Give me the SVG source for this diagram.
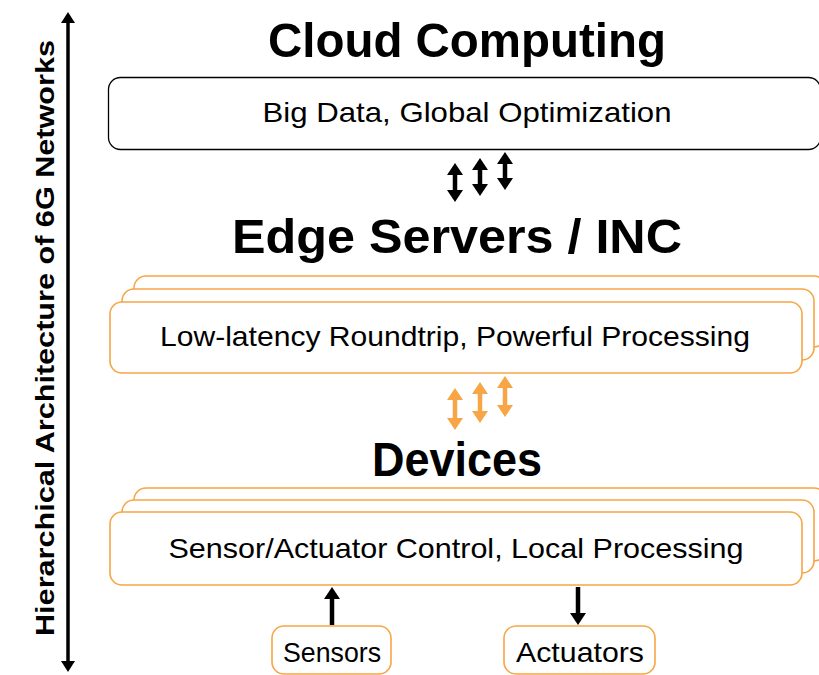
<svg xmlns="http://www.w3.org/2000/svg" width="819" height="675" viewBox="0 0 819 675">
<style>
.title{font-family:"Liberation Sans",Arial,sans-serif;font-weight:bold;font-size:49px;fill:#000;text-anchor:middle}
.lbl{font-family:"Liberation Sans",Arial,sans-serif;font-size:28px;fill:#000;text-anchor:middle}
.axis{font-family:"Liberation Sans",Arial,sans-serif;font-weight:bold;font-size:26px;fill:#000;text-anchor:middle}
.bk{fill:#fff;stroke:#000;stroke-width:1.3}
.or{fill:#fff;stroke:#F7A545;stroke-width:1.6}
.ab{stroke:#000;stroke-width:4.5;fill:none}
.ao{stroke:#F7A545;stroke-width:4.5;fill:none}
</style>
<defs>
<marker id="hb" viewBox="0 0 12 16" markerWidth="12" markerHeight="16" refX="1" refY="8" orient="auto-start-reverse" markerUnits="userSpaceOnUse"><path d="M0,0 L12,8 L0,16 z" fill="#000"/></marker>
<marker id="ho" viewBox="0 0 12 16" markerWidth="12" markerHeight="16" refX="1" refY="8" orient="auto-start-reverse" markerUnits="userSpaceOnUse"><path d="M0,0 L12,8 L0,16 z" fill="#F7A545"/></marker>
<marker id="ha" viewBox="0 0 11 14" markerWidth="11" markerHeight="14" refX="1" refY="7" orient="auto-start-reverse" markerUnits="userSpaceOnUse"><path d="M0,0 L11,7 L0,14 z" fill="#000"/></marker>
</defs>

<g id="axis">
<line x1="68" y1="22" x2="68" y2="662" stroke="#000" stroke-width="3.5" marker-start="url(#ha)" marker-end="url(#ha)"/>
<text class="axis" transform="translate(54,338) rotate(-90)" textLength="596" lengthAdjust="spacingAndGlyphs">Hierarchical Architecture of 6G Networks</text>
</g>

<g id="cloud">
<text class="title" x="467" y="57" textLength="398" lengthAdjust="spacingAndGlyphs">Cloud Computing</text>
<rect class="bk" x="108.5" y="77.5" width="712" height="72" rx="12"/>
<text class="lbl" x="467" y="122" textLength="409" lengthAdjust="spacingAndGlyphs">Big Data, Global Optimization</text>
</g>

<g id="edge">
<text class="title" x="457" y="253" textLength="450" lengthAdjust="spacingAndGlyphs">Edge Servers / INC</text>
<rect class="or" x="134" y="276" width="692" height="71" rx="12"/>
<rect class="or" x="122" y="289" width="692" height="71" rx="12"/>
<rect class="or" x="110" y="302" width="692" height="71" rx="12"/>
<text class="lbl" x="455" y="346" textLength="590" lengthAdjust="spacingAndGlyphs">Low-latency Roundtrip, Powerful Processing</text>
</g>

<g id="devices">
<text class="title" x="457" y="476" textLength="170" lengthAdjust="spacingAndGlyphs">Devices</text>
<rect class="or" x="134" y="488" width="692" height="73" rx="12"/>
<rect class="or" x="122" y="500" width="692" height="73" rx="12"/>
<rect class="or" x="110" y="512" width="692" height="73" rx="12"/>
<text class="lbl" x="456" y="558" textLength="575" lengthAdjust="spacingAndGlyphs">Sensor/Actuator Control, Local Processing</text>
</g>

<g id="sensors">
<rect class="or" x="272" y="626" width="119" height="48" rx="12"/>
<text class="lbl" x="332" y="662" textLength="98" lengthAdjust="spacingAndGlyphs">Sensors</text>
</g>

<g id="actuators">
<rect class="or" x="504" y="626" width="151" height="48" rx="12"/>
<text class="lbl" x="580" y="662" textLength="128" lengthAdjust="spacingAndGlyphs">Actuators</text>
</g>

<g id="connectors">
<line class="ab" x1="455" y1="174" x2="455" y2="191" marker-start="url(#hb)" marker-end="url(#hb)"/>
<line class="ab" x1="480" y1="169" x2="480" y2="185" marker-start="url(#hb)" marker-end="url(#hb)"/>
<line class="ab" x1="505" y1="163" x2="505" y2="179" marker-start="url(#hb)" marker-end="url(#hb)"/>
<line class="ao" x1="455" y1="399" x2="455" y2="419" marker-start="url(#ho)" marker-end="url(#ho)"/>
<line class="ao" x1="480" y1="393" x2="480" y2="412" marker-start="url(#ho)" marker-end="url(#ho)"/>
<line class="ao" x1="505" y1="387" x2="505" y2="406" marker-start="url(#ho)" marker-end="url(#ho)"/>
<line class="ab" x1="332" y1="625" x2="332" y2="598" marker-end="url(#hb)"/>
<line class="ab" x1="578" y1="587" x2="578" y2="614" marker-end="url(#hb)"/>
</g>
</svg>
